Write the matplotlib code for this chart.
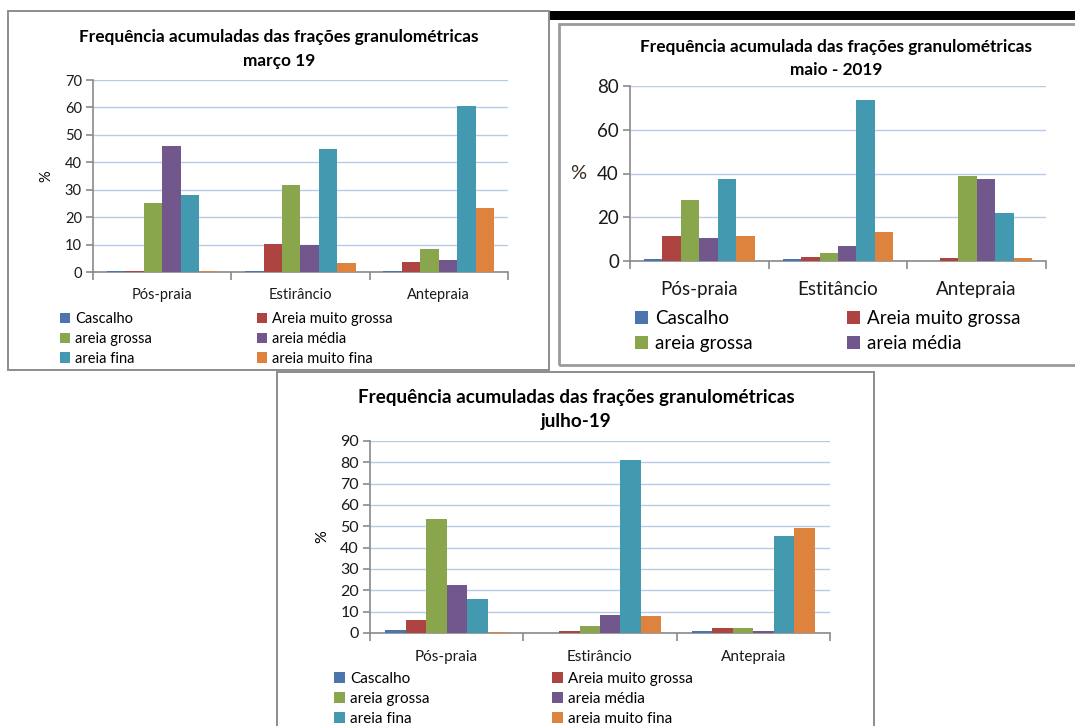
import matplotlib
matplotlib.use("Agg")
import matplotlib.pyplot as plt
from matplotlib.patches import Rectangle
import numpy as np

plt.rcParams['font.family'] = ['Lato', 'DejaVu Sans']

W, H = 1075, 726

series = ["Cascalho", "Areia muito grossa", "areia grossa", "areia média",
          "areia fina", "areia muito fina"]
colors = ["#4a76ad", "#ad4442", "#8aa64c", "#72578c", "#4399b0", "#de833e"]

cats = ["Pós-praia", "Estirâncio", "Antepraia"]
cats_maio = ["Pós-praia", "Estitâncio", "Antepraia"]

# one row per fraction, one column per zone (Pós-praia, Estirâncio, Antepraia)
marco = [
    [0.5, 0.5, 0.5],
    [0.5, 10.2, 3.8],
    [25.2, 31.9, 8.4],
    [46.0, 9.7, 4.3],
    [27.9, 44.7, 60.6],
    [0.5, 3.1, 23.5],
]
maio = [
    [1.1, 1.1, 0.0],
    [11.4, 2.0, 1.2],
    [27.7, 3.5, 39.0],
    [10.5, 7.0, 37.3],
    [37.3, 73.6, 21.8],
    [11.4, 13.1, 1.2],
]
julho = [
    [1.4, 0.0, 0.8],
    [6.2, 0.8, 2.2],
    [53.3, 3.1, 2.5],
    [22.3, 8.4, 0.8],
    [16.1, 80.9, 45.3],
    [0.6, 7.8, 49.4],
]


def px_box(x0, y0, x1, y1):
    return [x0 / W, 1 - y1 / H, (x1 - x0) / W, (y1 - y0) / H]


def frame(fig, x0, y0, x1, y1, color="#8c8c8c", lw=1.4):
    r = Rectangle((x0 / W, 1 - y1 / H), (x1 - x0) / W, (y1 - y0) / H,
                  transform=fig.transFigure, fill=False, edgecolor=color, lw=lw)
    fig.add_artist(r)


def panel(fig, box, data, ymax, ystep, labels, fs_tick, fs_cat, fs_leg,
          leg_x, leg_top, nleg=6, ylab_rot=90, ylab_pad=8, lsp=0.4):
    ax = fig.add_axes(px_box(*box))
    x = np.arange(len(labels))
    w = 1 / 7.5
    for i, vals in enumerate(data):
        ax.bar(x + (i - 2.5) * w, vals, w, color=colors[i], label=series[i],
               linewidth=0, zorder=3)
    ax.set_xlim(-0.5, len(labels) - 0.5)
    ax.set_ylim(0, ymax)
    ax.set_yticks(np.arange(0, ymax + 1, ystep))
    ax.yaxis.grid(True, color="#b8cbe6", lw=1.0, zorder=0)
    for s in ("top", "right"):
        ax.spines[s].set_visible(False)
    for s in ("left", "bottom"):
        ax.spines[s].set_color("#8a8a8a")
        ax.spines[s].set_linewidth(1.2)
    ax.set_xticks(x)
    ax.set_xticklabels(labels, fontsize=fs_cat, color="#1a1a1a")
    ax.set_xticks(np.arange(-0.5, len(labels)), minor=True)
    ax.tick_params(axis="x", which="major", length=0, pad=fs_cat * 0.9 + 2)
    ax.tick_params(axis="x", which="minor", length=6, color="#8a8a8a", width=1.2)
    ax.tick_params(axis="y", length=5, color="#8a8a8a", width=1.2,
                   labelsize=fs_tick, labelcolor="#1a1a1a", pad=3)
    if ylab_rot == 90:
        ax.set_ylabel("%", fontsize=fs_tick, labelpad=ylab_pad)
    else:
        ax.set_ylabel("%", fontsize=fs_tick + 1, rotation=0, labelpad=ylab_pad,
                      color="#3b2a1c", va="center")

    # legend in two columns, filled row by row
    h, l = ax.get_legend_handles_labels()
    cols = [[0, 2, 4], [1, 3, 5]] if nleg == 6 else [[0, 2], [1, 3]]
    for c, idx in enumerate(cols):
        leg = ax.legend([h[k] for k in idx], [l[k] for k in idx], ncol=1,
                        loc="upper left",
                        bbox_to_anchor=(leg_x[c] / W, 1 - leg_top / H),
                        bbox_transform=fig.transFigure, frameon=False,
                        fontsize=fs_leg, handlelength=0.7, handleheight=0.7,
                        handletextpad=0.35, labelspacing=lsp,
                        borderaxespad=0, borderpad=0)
        if c == 0:
            ax.add_artist(leg)
    return ax


fig = plt.figure(figsize=(W / 100, H / 100), dpi=100)
fig.patch.set_facecolor("white")

# top black strip over the second chart
fig.add_artist(Rectangle((549 / W, 1 - 20 / H), (W - 549) / W, 9 / H,
                         transform=fig.transFigure, color="black", lw=0))

# frames around the three charts
frame(fig, 8, 11, 549, 370)
frame(fig, 559, 24, 1080, 365, color="#9a9a9a", lw=2.0)
frame(fig, 277, 372, 874, 735)

# março
panel(fig, (93, 80, 508, 272), marco, 70, 10, cats, 10.5, 10.5, 10.5,
      (60, 257), 312, lsp=0.4)
fig.text(279 / W, 1 - 37 / H, "Frequência acumuladas das frações granulométricas",
         ha="center", va="center", fontsize=12.4, fontweight="bold")
fig.text(279 / W, 1 - 61 / H, "março 19", ha="center", va="center",
         fontsize=12.4, fontweight="bold")

# maio
panel(fig, (630, 86, 1046, 261), maio, 80, 20, cats_maio, 13.5, 13.5, 13.5,
      (635, 847), 310, nleg=4, ylab_rot=0, ylab_pad=14, lsp=0.42)
fig.text(836 / W, 1 - 47 / H, "Frequência acumulada das frações granulométricas",
         ha="center", va="center", fontsize=12.4, fontweight="bold")
fig.text(836 / W, 1 - 70 / H, "maio - 2019", ha="center", va="center",
         fontsize=12.4, fontweight="bold")

# julho
panel(fig, (370, 441, 830, 633), julho, 90, 10, cats, 11.5, 11, 11,
      (334, 552), 672, lsp=0.38)
fig.text(576 / W, 1 - 397 / H, "Frequência acumuladas das frações granulométricas",
         ha="center", va="center", fontsize=13.6, fontweight="bold")
fig.text(576 / W, 1 - 422 / H, "julho-19", ha="center", va="center",
         fontsize=13.6, fontweight="bold")

fig.savefig("out.png", dpi=100)
